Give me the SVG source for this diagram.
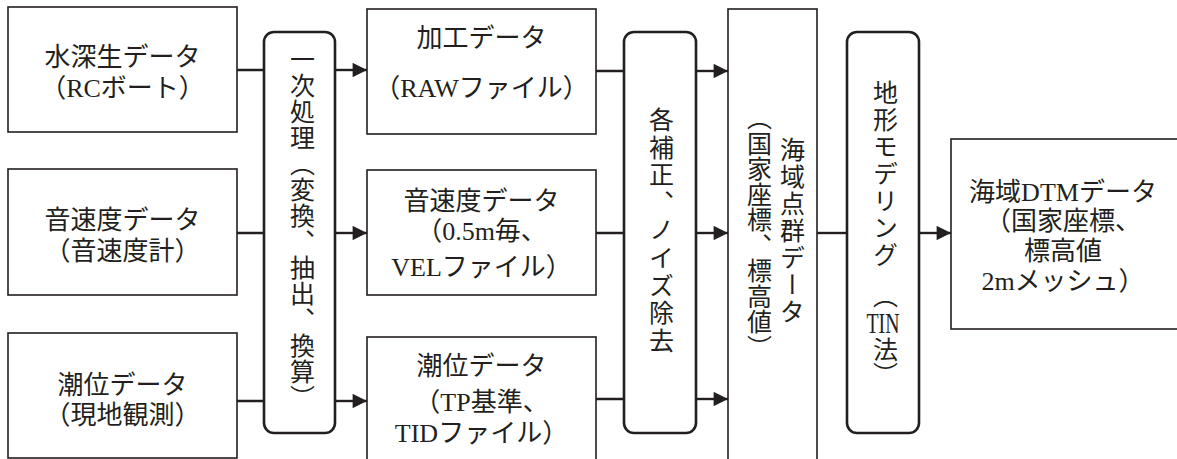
<svg xmlns="http://www.w3.org/2000/svg" width="1177" height="459" viewBox="0 0 1177 459">
<defs>
<style>
.box{fill:#fff;stroke:#231f20;stroke-width:1.6}
.rbox{fill:#fff;stroke:#231f20;stroke-width:2.6}
.t{font-family:'Liberation Serif','Noto Sans CJK JP',serif;font-size:26px;fill:#231f20;text-anchor:middle}
.v{font-family:'Liberation Serif','Noto Sans CJK JP',serif;font-size:25px;fill:#231f20;writing-mode:vertical-rl}
.ln{stroke:#231f20;stroke-width:2.4;fill:none}
</style>
<marker id="ah" viewBox="0 0 10 10" refX="10" refY="5" markerWidth="7" markerHeight="6" markerUnits="strokeWidth" orient="auto">
<path d="M0,0 L10,5 L0,10 z" fill="#231f20"/>
</marker>
</defs>
<rect width="1177" height="459" fill="#fff"/>

<g id="connectors">
<path class="ln" d="M237,70 H264 M237,233 H264 M237,401 H264"/>
<path class="ln" d="M335,70 H367" marker-end="url(#ah)"/>
<path class="ln" d="M335,233 H367" marker-end="url(#ah)"/>
<path class="ln" d="M335,401 H367" marker-end="url(#ah)"/>
<path class="ln" d="M596,71 H624 M596,233 H624 M596,399 H624"/>
<path class="ln" d="M696,71 H728" marker-end="url(#ah)"/>
<path class="ln" d="M696,233 H728" marker-end="url(#ah)"/>
<path class="ln" d="M696,399 H728" marker-end="url(#ah)"/>
<path class="ln" d="M817,233 H847"/>
<path class="ln" d="M919,233 H951" marker-end="url(#ah)"/>
</g>

<g id="n_suishin">
<rect class="box" x="8" y="7" width="229" height="125"/>
<text class="t" x="122.5" y="66">水深生データ</text>
<text class="t" x="122.5" y="97">（RCボート）</text>
</g>
<g id="n_onsoku_src">
<rect class="box" x="8" y="169" width="229" height="126"/>
<text class="t" x="122.5" y="229">音速度データ</text>
<text class="t" x="122.5" y="260">（音速度計）</text>
</g>
<g id="n_choui_src">
<rect class="box" x="8" y="333" width="229" height="125"/>
<text class="t" x="122.5" y="394">潮位データ</text>
<text class="t" x="122.5" y="424">（現地観測）</text>
</g>

<g id="n_ichiji">
<rect class="rbox" x="264" y="32" width="71" height="401" rx="10"/>
<text class="v" x="300" y="47" style="letter-spacing:1px">一次処理（変換、抽出、換算）</text>
</g>

<g id="n_kakou">
<rect class="box" x="367" y="9" width="229" height="125"/>
<text class="t" x="481.5" y="47">加工データ</text>
<text class="t" x="481.5" y="97">（RAWファイル）</text>
</g>
<g id="n_onsoku">
<rect class="box" x="367" y="170" width="229" height="125"/>
<text class="t" x="481.5" y="210">音速度データ</text>
<text class="t" x="481.5" y="240">（0.5m毎、</text>
<text class="t" x="481.5" y="276">VELファイル）</text>
</g>
<g id="n_choui">
<rect class="box" x="367" y="337" width="229" height="135"/>
<text class="t" x="481.5" y="375">潮位データ</text>
<text class="t" x="481.5" y="411">（TP基準、</text>
<text class="t" x="481.5" y="442">TIDファイル）</text>
</g>

<g id="n_hosei">
<rect class="rbox" x="624" y="32" width="72" height="401" rx="10"/>
<text class="v" x="659" y="107" style="letter-spacing:2.6px">各補正、ノイズ除去</text>
</g>

<g id="n_tengun">
<rect class="box" x="728" y="9" width="89" height="465"/>
<text class="v" x="790" y="137" style="letter-spacing:2px">海域点群データ</text>
<text class="v" x="757" y="105" style="letter-spacing:0.5px">（国家座標、標高値）</text>
</g>

<g id="n_model">
<rect class="rbox" x="847" y="32" width="72" height="401" rx="10"/>
<text class="v" x="883" y="80" style="letter-spacing:2px">地形モデリング</text>
<text class="v" x="883" y="283">（</text>
<text class="t" x="883" y="333" style="font-size:30px" textLength="33" lengthAdjust="spacingAndGlyphs">TIN</text>
<text class="v" x="883" y="337">法）</text>
</g>

<g id="n_dtm">
<rect class="box" x="951" y="139" width="240" height="190"/>
<text class="t" x="1063" y="201">海域DTMデータ</text>
<text class="t" x="1063" y="230">（国家座標、</text>
<text class="t" x="1063" y="260">標高値</text>
<text class="t" x="1063" y="290">2mメッシュ）</text>
</g>
</svg>
